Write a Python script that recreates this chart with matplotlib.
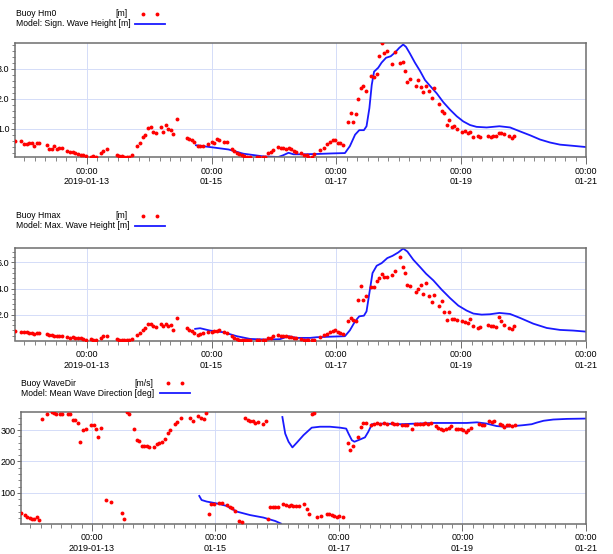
import matplotlib
matplotlib.use("Agg")
import matplotlib.pyplot as plt
import matplotlib.dates as mdates
from matplotlib.lines import Line2D
from matplotlib.ticker import MultipleLocator, FormatStrFormatter
import numpy as np
import pandas as pd

plt.rcParams["font.family"] = ["Liberation Sans", "DejaVu Sans"]

# hours relative to 2019-01-13 00:00
T0 = pd.Timestamp("2019-01-13 00:00")
XLIM = (pd.Timestamp("2019-01-11 20:25"), pd.Timestamp("2019-01-21 00:00"))

buoy_hours = [
    -27.6, -25.4, -24.1, -23.1, -22.1, -21.2, -20.3, -19.2, -18.2, -15.4, -14.4, -13.5,
    -12.4, -11.6, -10.5, -9.4, -7.4, -6.4, -5.4, -4.4, -3.3, -2.3, -1.3, -0.3,
    1.7, 2.6, 3.6, 5.5, 6.4, 7.7, 11.5, 12.6, 13.4, 14.5, 15.4, 16.4,
    17.6, 19.2, 20.5, 21.5, 22.4, 23.4, 24.6, 25.6, 26.7, 28.6, 29.5, 30.5,
    31.4, 32.4, 33.3, 34.6, 38.4, 39.3, 40.4, 41.4, 42.6, 43.6, 44.9, 46.8,
    48.1, 49.0, 50.0, 50.9, 52.8, 53.8, 55.8, 56.8, 57.7, 58.7, 59.6, 60.6,
    61.5, 62.6, 65.4, 66.4, 67.6, 68.6, 69.6, 70.8, 71.8, 73.7, 74.7, 75.6,
    76.7, 77.6, 78.6, 79.7, 80.5, 82.4, 83.6, 84.6, 85.2, 86.5, 87.4, 89.7,
    91.2, 92.5, 93.5, 94.6, 95.5, 96.5, 97.4, 98.4, 100.3, 101.5, 102.5, 103.5,
    104.4, 105.3, 106.4, 107.4, 109.3, 110.5, 111.5, 112.4, 113.4, 114.3, 115.3, 117.5,
    118.5, 120.5, 121.5, 122.5, 123.3, 124.3, 126.5, 127.5, 128.4, 129.4, 130.5, 131.5,
    132.6, 133.5, 135.5, 136.5, 137.5, 138.4, 139.4, 140.6, 141.4, 142.5, 144.4, 145.5,
    146.5, 147.4, 148.4, 150.3, 151.4, 154.4, 155.5, 156.4, 157.4, 158.4, 159.3, 160.3,
    162.4, 163.4, 164.4,
]

buoy_hm0 = [
    0.59, 0.59, 0.51, 0.51, 0.54, 0.54, 0.43, 0.54, 0.52, 0.48, 0.35, 0.35,
    0.42, 0.34, 0.38, 0.38, 0.27, 0.23, 0.23, 0.19, 0.16, 0.12, 0.13, 0.10,
    0.08, 0.10, 0.07, 0.19, 0.27, 0.35, 0.13, 0.10, 0.10, 0.08, 0.07, 0.07,
    0.13, 0.43, 0.52, 0.74, 0.81, 1.03, 1.07, 0.90, 0.85, 1.07, 0.90, 1.14,
    1.00, 0.98, 0.84, 1.33, 0.70, 0.67, 0.63, 0.56, 0.45, 0.43, 0.43, 0.51,
    0.57, 0.54, 0.67, 0.65, 0.56, 0.56, 0.34, 0.27, 0.19, 0.16, 0.12, 0.10,
    0.08, 0.08, 0.08, 0.07, 0.07, 0.08, 0.19, 0.24, 0.30, 0.40, 0.36, 0.36,
    0.34, 0.36, 0.32, 0.27, 0.23, 0.19, 0.13, 0.12, 0.08, 0.08, 0.16, 0.30,
    0.38, 0.51, 0.57, 0.65, 0.62, 0.52, 0.54, 0.48, 1.23, 1.53, 1.23, 1.49,
    2.00, 2.37, 2.43, 2.27, 2.77, 2.73, 2.82, 3.41, 3.84, 3.53, 3.58, 3.14,
    3.55, 3.20, 3.23, 2.93, 2.57, 2.66, 2.44, 2.62, 2.40, 2.21, 2.44, 2.26,
    2.04, 2.35, 1.82, 1.61, 1.53, 1.12, 1.29, 1.05, 1.11, 1.00, 0.89, 0.92,
    0.87, 0.90, 0.73, 0.76, 0.73, 0.78, 0.73, 0.76, 0.78, 0.85, 0.87, 0.84,
    0.76, 0.70, 0.78,
]

buoy_hmax = [
    0.78, 0.68, 0.65, 0.65, 0.60, 0.58, 0.55, 0.60, 0.63, 0.52, 0.45, 0.45,
    0.40, 0.37, 0.40, 0.37, 0.27, 0.24, 0.27, 0.24, 0.19, 0.19, 0.14, 0.09,
    0.14, 0.09, 0.04, 0.22, 0.35, 0.35, 0.14, 0.09, 0.09, 0.07, 0.04, 0.07,
    0.14, 0.45, 0.60, 0.85, 0.96, 1.29, 1.29, 1.16, 1.03, 1.29, 1.11, 1.29,
    1.11, 1.24, 0.83, 1.72, 0.98, 0.85, 0.73, 0.60, 0.47, 0.55, 0.60, 0.65,
    0.65, 0.73, 0.73, 0.80, 0.65, 0.60, 0.35, 0.22, 0.17, 0.09, 0.09, 0.09,
    0.04, 0.09, 0.09, 0.07, 0.04, 0.09, 0.19, 0.22, 0.40, 0.45, 0.37, 0.35,
    0.35, 0.32, 0.27, 0.22, 0.19, 0.14, 0.09, 0.09, 0.04, 0.04, 0.09, 0.30,
    0.47, 0.55, 0.65, 0.73, 0.80, 0.65, 0.60, 0.52, 1.49, 1.75, 1.62, 1.54,
    3.15, 4.21, 3.09, 3.40, 4.11, 4.09, 4.54, 4.80, 5.13, 4.88, 4.88, 5.05,
    5.31, 6.38, 5.64, 5.18, 4.29, 4.16, 3.70, 3.98, 4.29, 3.58, 4.42, 3.45,
    2.94, 3.53, 2.64, 3.02, 2.18, 1.62, 2.20, 1.69, 1.69, 1.62, 1.49, 1.41,
    1.36, 1.67, 1.16, 0.98, 1.03, 1.24, 1.16, 1.11, 1.06, 1.82, 1.49, 1.19,
    0.98, 0.91, 1.11,
]

model_hours = [
    42.0, 47.4, 54.5, 60.2, 67.9, 73.7, 75.6, 77.6, 79.5, 83.3, 88.4, 94.8,
    99.3, 101.2, 103.2, 104.8, 106.6, 107.6, 108.7, 109.6, 110.5, 112.1, 113.4, 115.1,
    116.9, 118.5, 120.2, 121.7, 122.8, 124.3, 126.2, 128.2, 130.1, 132.0, 134.6, 137.1,
    139.7, 142.3, 144.8, 147.4, 149.9, 153.8, 158.7, 162.8, 166.6, 170.5, 174.3, 178.2,
    182.0, 187.1, 192.0,
]

model_hm0 = [
    0.46, 0.40, 0.32, 0.18, 0.09, 0.07, 0.13, 0.21, 0.16, 0.16, 0.17, 0.19,
    0.20, 0.43, 0.81, 0.96, 0.96, 1.09, 1.69, 2.46, 2.90, 3.03, 3.20, 3.36,
    3.41, 3.53, 3.69, 3.80, 3.72, 3.50, 3.20, 2.92, 2.62, 2.43, 2.18, 1.89,
    1.64, 1.42, 1.25, 1.13, 1.07, 1.05, 1.09, 1.05, 0.92, 0.79, 0.65, 0.55,
    0.48, 0.44, 0.40,
]

model_hmax_hours = [
    41.7, 43.6, 47.4, 52.6, 57.7, 62.8, 69.2, 74.3, 77.6, 80.8, 85.9, 88.4,
    94.8, 99.3, 101.2, 103.2, 104.8, 106.6, 107.6, 108.9, 109.9, 111.5, 113.4, 115.6,
    117.6, 119.8, 121.7, 123.3, 125.6, 128.2, 130.5, 133.3, 136.5, 139.7, 142.9, 146.1,
    148.7, 151.9, 155.1, 158.7, 162.8, 166.6, 171.7, 176.9, 182.0, 187.1, 192.0,
]

model_hmax = [
    0.91, 0.96, 0.78, 0.65, 0.35, 0.14, 0.09, 0.12, 0.35, 0.22, 0.22, 0.27,
    0.32, 0.35, 0.80, 1.49, 1.87, 1.92, 2.25, 3.91, 5.18, 5.74, 5.94, 6.33,
    6.50, 6.76, 7.06, 6.83, 6.20, 5.64, 5.13, 4.62, 3.91, 3.27, 2.69, 2.31,
    2.08, 2.00, 2.03, 2.13, 2.05, 1.75, 1.31, 0.98, 0.83, 0.78, 0.70,
]

dir_hours = [
    -27.7, -26.0, -25.1, -24.1, -23.5, -22.5, -21.4, -20.4, -19.5, -17.6, -15.7, -14.6,
    -13.8, -12.6, -11.7, -9.5, -8.5, -7.5, -6.5, -5.4, -4.7, -3.5, -2.5, -0.3,
    0.6, 1.6, 2.5, 3.5, 5.4, 7.4, 11.5, 12.6, 13.5, 14.5, 16.5, 17.4,
    18.4, 19.3, 20.4, 21.3, 22.3, 24.3, 25.2, 26.2, 27.1, 28.4, 29.4, 30.3,
    32.3, 33.2, 34.5, 38.1, 39.2, 41.3, 42.4, 43.4, 44.4, 45.3, 46.3, 47.5,
    49.5, 50.4, 52.4, 53.5, 54.4, 55.4, 57.3, 58.5, 59.5, 60.5, 61.4, 62.5,
    63.4, 64.5, 66.4, 67.5, 68.3, 69.2, 70.2, 71.2, 72.2, 74.4, 75.5, 76.4,
    77.4, 78.3, 79.3, 80.3, 82.3, 83.4, 84.4, 85.4, 86.3, 87.3, 89.2, 91.3,
    92.3, 93.2, 94.2, 95.1, 96.1, 97.4, 99.4, 100.3, 101.4, 103.5, 104.4, 105.5,
    106.5, 108.5, 109.7, 110.7, 112.0, 113.3, 114.5, 116.5, 117.5, 118.5, 120.4, 121.7,
    122.6, 124.5, 125.5, 126.4, 127.6, 128.6, 129.6, 130.5, 131.7, 133.7, 134.6, 135.6,
    136.6, 137.7, 138.6, 139.5, 141.5, 142.4, 143.4, 144.3, 145.3, 146.3, 147.2, 150.4,
    151.5, 152.5, 154.4, 155.4, 156.4, 158.4, 159.3, 160.3, 161.2, 162.2, 163.4, 164.5,
]

buoy_dir = [
    37, 29, 24, 19, 15, 15, 22, 13, 337, 353, 358, 355,
    353, 351, 351, 351, 351, 334, 334, 323, 263, 302, 303, 318,
    316, 305, 279, 308, 77, 72, 35, 16, 358, 351, 305, 270,
    266, 249, 249, 249, 247, 247, 255, 260, 263, 273, 292, 300,
    319, 327, 339, 339, 330, 345, 340, 337, 355, 31, 63, 64,
    68, 66, 61, 56, 50, 42, 11, 6, 340, 332, 330, 329,
    324, 327, 321, 329, 16, 56, 56, 56, 56, 63, 61, 59,
    61, 59, 59, 59, 64, 48, 32, 351, 355, 22, 27, 32,
    32, 29, 26, 24, 26, 24, 260, 238, 249, 279, 311, 323,
    323, 318, 321, 323, 321, 323, 321, 323, 321, 321, 316, 316,
    316, 305, 319, 321, 321, 321, 323, 321, 323, 313, 307, 303,
    302, 303, 307, 314, 305, 305, 303, 300, 295, 300, 307, 321,
    316, 318, 330, 327, 329, 321, 316, 311, 318, 316, 314, 316,
]

# model direction wraps through north, the NaN splits the two branches
model_dir_hours = [
    41.7, 42.6, 44.6, 48.5, 52.4, 56.3, 61.4, 66.6, 71.2, 73.4, 73.7,
    74.0, 75.1, 76.4, 77.9, 79.6, 82.2, 85.4, 88.6, 92.5, 96.4, 98.8,
    99.7, 101.0, 102.0, 103.5, 106.1, 107.4, 108.8, 113.3, 119.8, 126.2, 132.7,
    139.2, 145.6, 149.6, 153.4, 157.3, 160.5, 163.8, 167.7, 170.9, 172.8, 175.5,
    179.3, 184.6, 192.0,
]

model_dir = [
    90, 77, 72, 66, 58, 40, 29, 21, 10, 2, np.nan,
    342, 289, 263, 245, 260, 284, 308, 311, 311, 308, 305,
    289, 268, 263, 268, 277, 295, 319, 321, 319, 321, 323,
    323, 323, 325, 321, 313, 311, 313, 316, 319, 324, 330,
    334, 336, 337,
]


def to_time(hours):
    return T0 + pd.to_timedelta(np.asarray(hours, dtype=float), unit="h")


W, H = 613, 554
RED = "#ff0000"
BLUE = "#1a1aff"


def fig_xy(x, y):
    return x / W, 1 - y / H


def draw_key(fig, x0, y_top, buoy_label, unit, model_label, unit_right, key_x):
    # hand-made key: label on the left, unit column, then the symbol
    y1, y2 = y_top, y_top + 10
    fig.text(*fig_xy(x0, y1), buoy_label, fontsize=6.2, va="center", ha="left")
    fig.text(*fig_xy(unit_right, y1), unit, fontsize=6.2, va="center", ha="right")
    fig.text(*fig_xy(x0, y2), model_label, fontsize=6.2, va="center", ha="left")
    for dx in (8, 22):
        fx, fy = fig_xy(key_x + dx, y1)
        fig.add_artist(Line2D([fx], [fy], marker="o", ms=2.8, color=RED, mec="none"))
    fa, fy = fig_xy(key_x, y2)
    fb, _ = fig_xy(key_x + 30, y2)
    fig.add_artist(Line2D([fa, fb], [fy, fy], color=BLUE, lw=1.3))


def style_axes(ax, ylim, major, minor, fmt):
    ax.set_xlim(XLIM)
    ax.set_ylim(ylim)
    ax.xaxis.set_major_locator(mdates.DayLocator(bymonthday=[13, 15, 17, 19, 21]))
    ax.xaxis.set_minor_locator(mdates.HourLocator(byhour=range(0, 24, 4)))
    ticks = ax.get_xticks()
    ax.set_xticks(ticks)
    labels = []
    for t in ticks:
        d = mdates.num2date(t)
        date = d.strftime("%Y-%m-%d") if d.day == 13 else d.strftime("%m-%d")
        labels.append("00:00\n" + date)
    ax.set_xticklabels(labels, fontsize=6.5, linespacing=1.25)
    ax.yaxis.set_major_locator(MultipleLocator(major))
    ax.yaxis.set_minor_locator(MultipleLocator(minor))
    ax.yaxis.set_major_formatter(FormatStrFormatter(fmt))
    ax.tick_params(axis="y", labelsize=6.5, length=3, width=0.6, color="#555555", pad=1)
    ax.tick_params(axis="y", which="minor", length=2, width=0.5, color="#555555")
    ax.tick_params(axis="x", length=5, width=0.6, color="#555555", pad=2)
    ax.tick_params(axis="x", which="minor", length=3, width=0.5, color="#555555")
    ax.grid(True, which="major", color="#d4dcf8", lw=0.7)
    ax.set_axisbelow(True)
    for sp in ax.spines.values():
        sp.set_color("#6e6e6e")
        sp.set_linewidth(1.1)


fig = plt.figure(figsize=(6.13, 5.54), dpi=100)
right = 586 / W
ax1 = fig.add_axes([15 / W, 1 - 157 / H, right - 15 / W, 114 / H])
ax2 = fig.add_axes([15 / W, 1 - 340.5 / H, right - 15 / W, 92.5 / H])
ax3 = fig.add_axes([21 / W, 1 - 523.5 / H, right - 21 / W, 111.5 / H])

dot_kw = dict(ls="none", marker="o", ms=2.8, color=RED, mec="none", zorder=3)
line_kw = dict(color=BLUE, lw=1.3, zorder=2)

ax1.plot(to_time(model_hours), model_hm0, **line_kw)
ax1.plot(to_time(buoy_hours), buoy_hm0, **dot_kw)
style_axes(ax1, (0.07, 3.85), 1.0, 0.2, "%.1f")

ax2.plot(to_time(model_hmax_hours), model_hmax, **line_kw)
ax2.plot(to_time(buoy_hours), buoy_hmax, **dot_kw)
style_axes(ax2, (0.02, 7.1), 2.0, 0.4, "%.1f")

ax3.plot(to_time(model_dir_hours), model_dir, **line_kw)
ax3.plot(to_time(dir_hours), buoy_dir, **dot_kw)
style_axes(ax3, (2, 358), 100, 20, "%d")

draw_key(fig, 16, 14, "Buoy Hm0", "[m]", "Model: Sign. Wave Height [m]", 128, 135)
draw_key(fig, 16, 216, "Buoy Hmax", "[m]", "Model: Max. Wave Height [m]", 128, 135)
draw_key(fig, 21, 383, "Buoy WaveDir", "[m/s]", "Model: Mean Wave Direction [deg]", 153, 160)

fig.savefig("out.png", dpi=100)
